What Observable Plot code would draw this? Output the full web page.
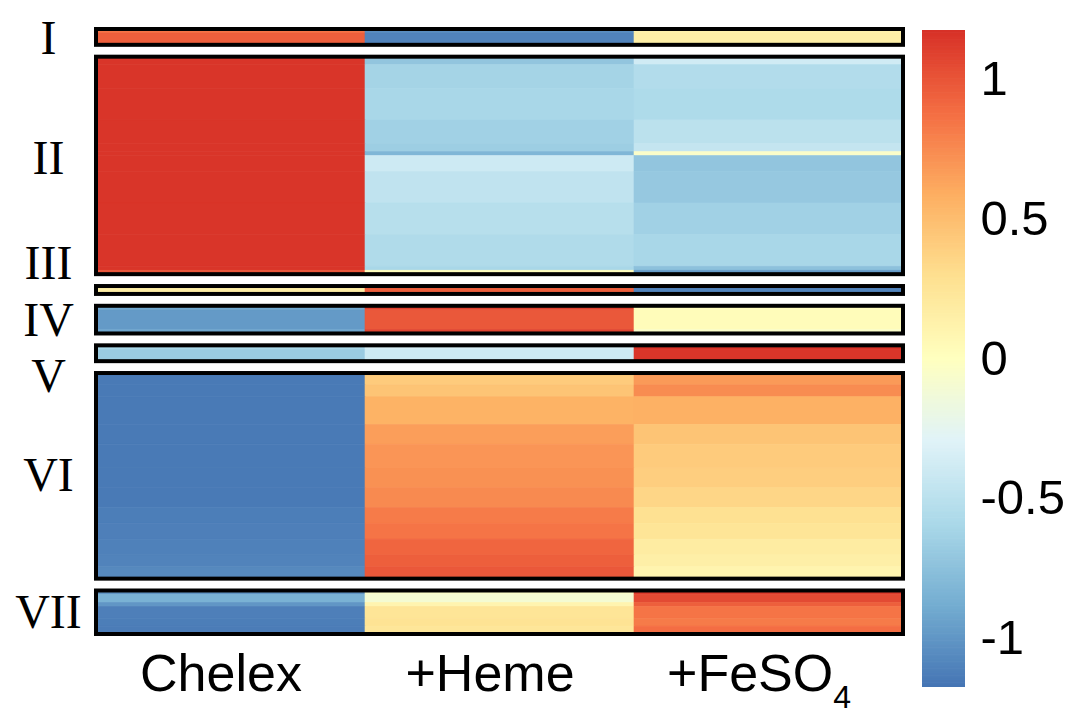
<!DOCTYPE html>
<html><head><meta charset="utf-8">
<script src="https://cdn.jsdelivr.net/npm/d3@7"></script>
<script src="https://cdn.jsdelivr.net/npm/@observablehq/plot@0.6"></script>
<style>
html,body{margin:0;padding:0;background:#fff;}
#chart{position:relative;width:1081px;height:715px;display:flex;background:#fff;}
#chart svg{display:block;flex:none;}
</style></head><body><div id="chart"></div>
<script>
// ---- data ----
const columns = ["Chelex", "+Heme", "+FeSO4"];
const clusterNames = ["I", "II", "III", "IV", "V", "VI", "VII"];
// stripes of genes with similar profiles (cluster, number of genes, value per condition)
const stripeCluster = [
  "I","I",
  "II","II","II","II","II","II","II","II","II","II","II","II",
  "III",
  "IV","IV","IV",
  "V","V",
  "VI","VI","VI","VI","VI","VI","VI","VI","VI","VI","VI","VI",
  "VII","VII","VII","VII","VII","VII"
];
const stripeGenes = [
  1,3,
  2,6,8,6,2,1, 4,8,8,8,1,1,
  2,
  1,5,1,
  1,3,
  3,3,7,5,6,5,5,4,4,4,3,3,
  1,2,1,3,2,2
];
const chelexValues = [
  0.85,0.95,
  1.15,1.15,1.15,1.15,1.15,1.15, 1.15,1.15,1.15,1.15,1.15,1.0,
  0.16,
  -0.9,-0.98,-0.92,
  -0.6,-0.68,
  -1.15,-1.15,-1.15,-1.15,-1.15,-1.15,-1.15,-1.13,-1.12,-1.11,-1.1,-1.07,
  -1.0,-0.85,-1.0,-1.12,-1.13,-1.14
];
const hemeValues = [
  -1.05,-1.1,
  -0.72,-0.62,-0.6,-0.64,-0.66,-0.82, -0.4,-0.47,-0.52,-0.56,-0.6,0.02,
  0.95,
  1.1,0.98,1.08,
  -0.35,-0.4,
  0.42,0.46,0.56,0.66,0.7,0.72,0.75,0.82,0.85,0.92,0.95,0.98,
  -0.05,-0.1,0.1,0.25,0.27,0.24
];
const feso4Values = [
  0.12,0.15,
  -0.38,-0.55,-0.57,-0.5,-0.45,-0.05, -0.72,-0.7,-0.64,-0.6,-0.75,-0.98,
  -1.1,
  0.02,0.03,-0.05,
  1.15,1.15,
  0.68,0.74,0.57,0.46,0.42,0.4,0.35,0.28,0.25,0.18,0.15,0.1,
  1.12,1.05,0.95,0.85,0.82,0.88
];
const colorbarTicks = [-1, -0.5, 0, 0.5, 1];
const colorDomain = [-1.175, 1.175];

// ---- styling ----
const palette = ["#4575b4","#74add1","#abd9e9","#e0f3f8","#ffffbf","#fee090","#fdae61","#f46d43","#d73027"];
const gapRows = 3;
const labelNudgePx = {I: 1, II: -7, III: -27, IV: 0, V: 23, VI: -1, VII: 0};
const W = 915, H = 715, MT = 29, MB = 81, ML = 96, MR = 12;

// ---- build table ----
const cells = [], clusters = [];
let pos = 0;
clusterNames.forEach((name, ci) => {
  if (ci > 0) pos += gapRows;
  const start = pos;
  stripeCluster.forEach((c, si) => {
    if (c !== name) return;
    const y1 = pos, y2 = pos + stripeGenes[si];
    [chelexValues, hemeValues, feso4Values].forEach((vals, k) =>
      cells.push({col: k, y1, y2, value: vals[si]}));
    pos = y2;
  });
  clusters.push({name, start, end: pos});
});
const total = pos;
const pxPerUnit = (H - MT - MB) / total;

const color = {type: "linear", domain: colorDomain, interpolate: d3.piecewise(d3.interpolateRgb, palette)};

const main = Plot.plot({
  width: W, height: H, marginTop: MT, marginBottom: MB, marginLeft: ML, marginRight: MR,
  x: {domain: [0, 3], axis: null},
  y: {domain: [0, total], reverse: true, axis: null},
  color,
  style: {background: "#fff", fontFamily: "'Liberation Sans', Arial, sans-serif", color: "#000"},
  marks: [
    Plot.rect(cells, {x1: "col", x2: d => d.col + 1, y1: "y1", y2: "y2", fill: "value", stroke: "value", strokeWidth: 0.6}),
    Plot.rect(clusters, {x1: 0, x2: 3, y1: "start", y2: "end", fill: "none", stroke: "#000", strokeWidth: 4}),
    Plot.text(clusters, {
      frameAnchor: "left", dx: -48, textAnchor: "middle", lineAnchor: "middle",
      y: d => (d.start + d.end) / 2 + labelNudgePx[d.name] / pxPerUnit,
      text: "name", fontFamily: "'Liberation Serif', 'Times New Roman', serif", fontSize: 48, fill: "#000"
    }),
    Plot.text(columns, {
      x: (d, i) => i + 0.5, frameAnchor: "bottom", text: d => d,
      dy: 40, dx: -10, lineAnchor: "middle", fontSize: 52, fill: "#000"
    })
  ]
});

// subscript for FeSO4
main.querySelectorAll("text").forEach(t => {
  if (t.textContent === "+FeSO4") {
    t.textContent = "+FeSO";
    const ts = document.createElementNS("http://www.w3.org/2000/svg", "tspan");
    ts.setAttribute("dy", "17");
    ts.setAttribute("font-size", "32");
    ts.textContent = "4";
    t.appendChild(ts);
  }
});

const step = 0.005;
const steps = d3.range(colorDomain[0], colorDomain[1], step);
const bar = Plot.plot({
  width: 166, height: H, marginTop: 30, marginBottom: 28, marginLeft: 7, marginRight: 116,
  x: {domain: [0, 1], axis: null},
  y: {domain: colorDomain, axis: "right", ticks: colorbarTicks, tickSize: 0, tickPadding: 15, tickFormat: d => String(d), label: null},
  color,
  style: {background: "#fff", fontFamily: "'Liberation Sans', Arial, sans-serif", fontSize: "49px", color: "#000"},
  marks: [
    Plot.rect(steps, {x1: 0, x2: 1, y1: d => d, y2: d => Math.min(d + step * 1.5, colorDomain[1]), fill: d => d + step / 2})
  ]
});

const chart = document.getElementById("chart");
chart.appendChild(main);
chart.appendChild(bar);
</script>
</body></html>
